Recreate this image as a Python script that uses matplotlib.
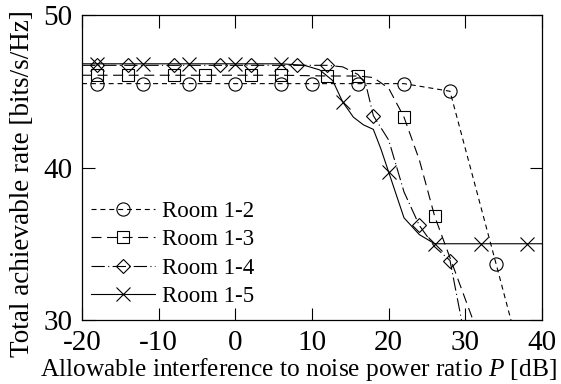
import matplotlib
matplotlib.use("Agg")
import matplotlib.pyplot as plt

plt.rcParams['font.family'] = ['Liberation Serif', 'DejaVu Serif']
plt.rcParams['mathtext.fontset'] = 'custom'
plt.rcParams['mathtext.rm'] = 'Liberation Serif'
plt.rcParams['mathtext.it'] = 'Liberation Serif:italic'

# -----------------------------
# Data
# -----------------------------
labels = ['Room 1-2', 'Room 1-3', 'Room 1-4', 'Room 1-5']

x_12 = [-20, -18, -12, -6, 0, 6, 10, 16, 22, 28, 34, 36]
y_12 = [45.5, 45.5, 45.5, 45.5, 45.5, 45.5, 45.5, 45.5, 45.5, 45.0, 33.7, 29.9]
mk_12 = [1, 2, 3, 4, 5, 6, 7, 8, 9, 10]

x_13 = [-20, -18, -14, -8, -4, 2, 6, 12, 16, 18, 20, 22, 24, 26, 31]
y_13 = [46.05, 46.05, 46.05, 46.05, 46.05, 46.05, 46.05, 46.0, 46.0, 45.9,
        45.2, 43.3, 40.5, 36.8, 30.0]
mk_13 = [1, 2, 3, 4, 5, 6, 7, 8, 11, 13]

x_14 = [-20, -18, -14, -8, -2, 2, 8, 12, 14, 16, 17, 18, 20, 22, 24, 26, 28, 29.5]
y_14 = [46.7, 46.7, 46.7, 46.7, 46.7, 46.7, 46.7, 46.7, 46.6, 46.1, 45.5,
        43.4, 41.8, 38.4, 36.2, 34.8, 33.9, 30.0]
mk_14 = [1, 2, 3, 4, 5, 6, 7, 11, 14, 16]

x_15 = [-20, -18, -12, -6, 0, 6, 9, 11, 12.7, 14, 15.4, 16.7, 18, 19, 20,
        22, 24, 26, 32, 38, 40]
y_15 = [46.8, 46.8, 46.8, 46.8, 46.8, 46.8, 46.7, 46.4, 45.7, 44.3, 43.3,
        42.8, 42.5, 41.2, 39.7, 36.7, 35.6, 35.0, 35.0, 35.0, 35.0]
mk_15 = [1, 2, 3, 4, 5, 9, 14, 17, 18, 19]

xticks = [-20, -10, 0, 10, 20, 30, 40]
yticks = [30, 40, 50]

# -----------------------------
# Plot
# -----------------------------
fig = plt.figure(figsize=(5.61, 3.84), dpi=100)
ax = fig.add_axes([82 / 561, 1 - 320 / 384, 460 / 561, 305 / 384])

styles = [
    dict(marker='o', ls=(0, (4.5, 3.5)), ms=9.5),
    dict(marker='s', ls=(0, (9, 5)), ms=8.5),
    dict(marker='D', ls=(0, (12, 3, 1, 3)), ms=7.5),
    dict(marker='x', ls='-', ms=9.5),
]
data = [(x_12, y_12, mk_12), (x_13, y_13, mk_13),
        (x_14, y_14, mk_14), (x_15, y_15, mk_15)]

for (xs, ys, mk), st, lab in zip(data, styles, labels):
    ax.plot(xs, ys, color='black', lw=0.8, linestyle=st['ls'],
            marker=st['marker'], markersize=st['ms'], markevery=mk,
            markerfacecolor='none', markeredgecolor='black',
            markeredgewidth=0.8, label=lab)

ax.set_xlim(-20, 40)
ax.set_ylim(30, 50)
ax.set_xticks(xticks)
ax.set_yticks(yticks)
ax.set_xticklabels([str(t) for t in xticks])
ax.tick_params(direction='in', length=9, width=0.8, labelsize=21, pad=7,
               top=True, right=True)
for s in ax.spines.values():
    s.set_linewidth(0.9)

ax.set_xlabel(r'Allowable interference to noise power ratio $\it{P}$ [dB]',
              fontsize=18.3)
ax.xaxis.set_label_coords((298.5 - 82) / 460, -(356 - 320) / 305)
ax.set_ylabel('Total achievable rate [bits/s/Hz]', fontsize=19.5)
ax.yaxis.set_label_coords((35 - 82) / 460, (320 - 184) / 305)

ax.legend(loc='lower left', bbox_to_anchor=(-0.01, -0.004), frameon=False,
          fontsize=16.5, handlelength=2.8, handletextpad=0.3,
          labelspacing=0.33, borderaxespad=0.2)

fig.savefig('out.png', dpi=100)
